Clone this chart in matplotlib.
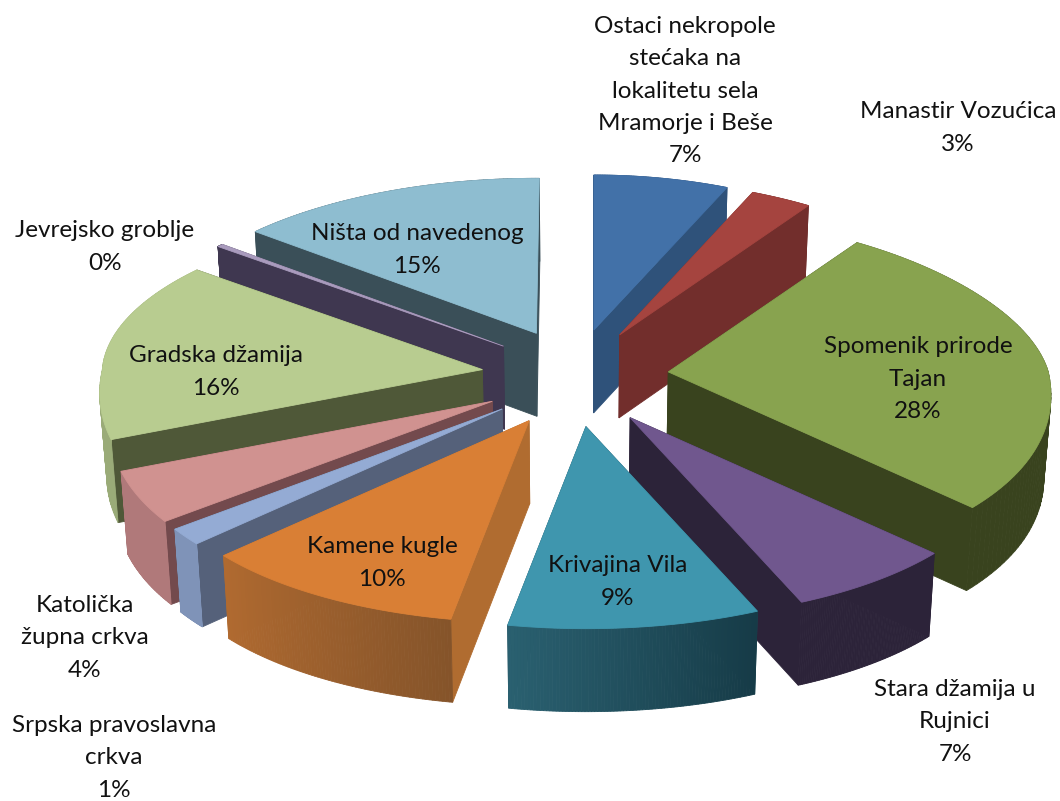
import numpy as np
import matplotlib
matplotlib.use("Agg")
import matplotlib.pyplot as plt
from matplotlib.colors import to_rgb

names = [
    "Ostaci nekropole\nstećaka na\nlokalitetu sela\nMramorje i Beše",
    "Manastir Vozućica",
    "Spomenik prirode\nTajan",
    "Stara džamija u\nRujnici",
    "Krivajina Vila",
    "Kamene kugle",
    "Srpska pravoslavna\ncrkva",
    "Katolička\nžupna crkva",
    "Gradska džamija",
    "Jevrejsko groblje",
    "Ništa od navedenog",
]
values = [7, 3, 28, 7, 9, 10, 1, 4, 16, 0.3, 14.7]

top_colors = ["#4271A8", "#A5443F", "#88A34F", "#70578E", "#3F96AE", "#D97F35",
              "#94ABD4", "#D09290", "#B8CC90", "#A99BBD", "#8EBDD0"]
inner_colors = ["#2F527A", "#722E2C", "#39431E", "#2C2339", "#1D4A58", "#B06C30",
                "#55617A", "#734A4D", "#4F5838", "#3F3750", "#3A4F58"]
# outer wall colour at start and end of the arc
wall_start = ["#2F527A", "#722E2C", "#39431E", "#2C2339", "#163B47", "#85542A",
              "#7F93B8", "#B0797A", "#9AAB78", "#3F3750", "#3A4F58"]
wall_end = ["#2F527A", "#722E2C", "#39431E", "#2C2339", "#2A6070", "#B06A30",
            "#7F93B8", "#B0797A", "#9AAB78", "#3F3750", "#3A4F58"]

label_x = [685, 958, 918, 955, 618, 382, 114, 85, 216, 105, 417]
label_y = [91, 128, 379, 722, 582, 563, 758, 638, 372, 247, 250]

# pie geometry in pixels
cx, cy = 575, 378
ex, ey = 94, 49
a = 380
b_back, b_front = 155, 202
persp = 0.12
persp_back_left = 0.03
depth = 83

# 3D view of the original pushes the angles around a bit
warp_in = [0, 25, 36, 137, 162, 194, 230, 234, 248, 306, 360]
warp_by = [0, -2, -2.5, -4.6, -6, -3.8, -2.5, -0.5, 1.3, 4, 0.5]


def view_angle(deg):
    return np.radians(deg + np.interp(deg, warp_in, warp_by))


def rim(ax0, ay0, phi):
    b = np.where(np.cos(phi) > 0, b_back, b_front)
    p = np.where((np.cos(phi) > 0) & (np.sin(phi) < 0), persp_back_left, persp)
    return ax0 + a * np.sin(phi) * (1 - p * np.cos(phi)), ay0 - b * np.cos(phi)


def lower(x, y):
    # bottom of the pie, slightly smaller because of the perspective
    return cx + (x - cx) * 0.985, y + depth


def mix(c1, c2, t):
    c1, c2 = np.array(to_rgb(c1)), np.array(to_rgb(c2))
    return tuple(c1 + (c2 - c1) * t)


def poly(ax, xs, ys, color):
    ax.fill(xs, ys, facecolor=color, edgecolor=color, linewidth=0.6)


def draw_slice(ax, i, start, end):
    mid = view_angle((start + end) / 2)
    ax0 = cx + ex * np.sin(mid)
    ay0 = cy - ey * np.cos(mid)
    phi = view_angle(np.linspace(start, end, 80))
    rx, ry = rim(ax0, ay0, phi)
    bx, by = lower(rx, ry)
    abx, aby = lower(ax0, ay0)

    # radial walls
    for k in (0, -1):
        poly(ax, [ax0, rx[k], bx[k], abx], [ay0, ry[k], by[k], aby], inner_colors[i])

    # outer wall as small strips for the gradient
    for k in range(len(phi) - 1):
        c = mix(wall_start[i], wall_end[i], k / (len(phi) - 2))
        poly(ax, [rx[k], rx[k + 1], bx[k + 1], bx[k]],
             [ry[k], ry[k + 1], by[k + 1], by[k]], c)

    poly(ax, np.r_[ax0, rx], np.r_[ay0, ry], top_colors[i])


def main():
    plt.rcParams["font.family"] = ["Lato", "DejaVu Sans"]
    fig = plt.figure(figsize=(10.6, 8.01), dpi=100)
    ax = fig.add_axes([0, 0, 1, 1])
    ax.set_xlim(0, 1060)
    ax.set_ylim(801, 0)
    ax.axis("off")

    edges = np.r_[0, np.cumsum(values)] / sum(values) * 360
    mids = (edges[:-1] + edges[1:]) / 2
    # back slices first
    for i in np.argsort(-np.cos(np.radians(mids))):
        draw_slice(ax, i, edges[i], edges[i + 1])

    for name, v, x, y in zip(names, values, label_x, label_y):
        ax.text(x, y, f"{name}\n{round(v)}%", ha="center", va="center",
                fontsize=17.5, color="#111111", linespacing=1.66)

    fig.savefig("out.png", dpi=100)


if __name__ == "__main__":
    main()
